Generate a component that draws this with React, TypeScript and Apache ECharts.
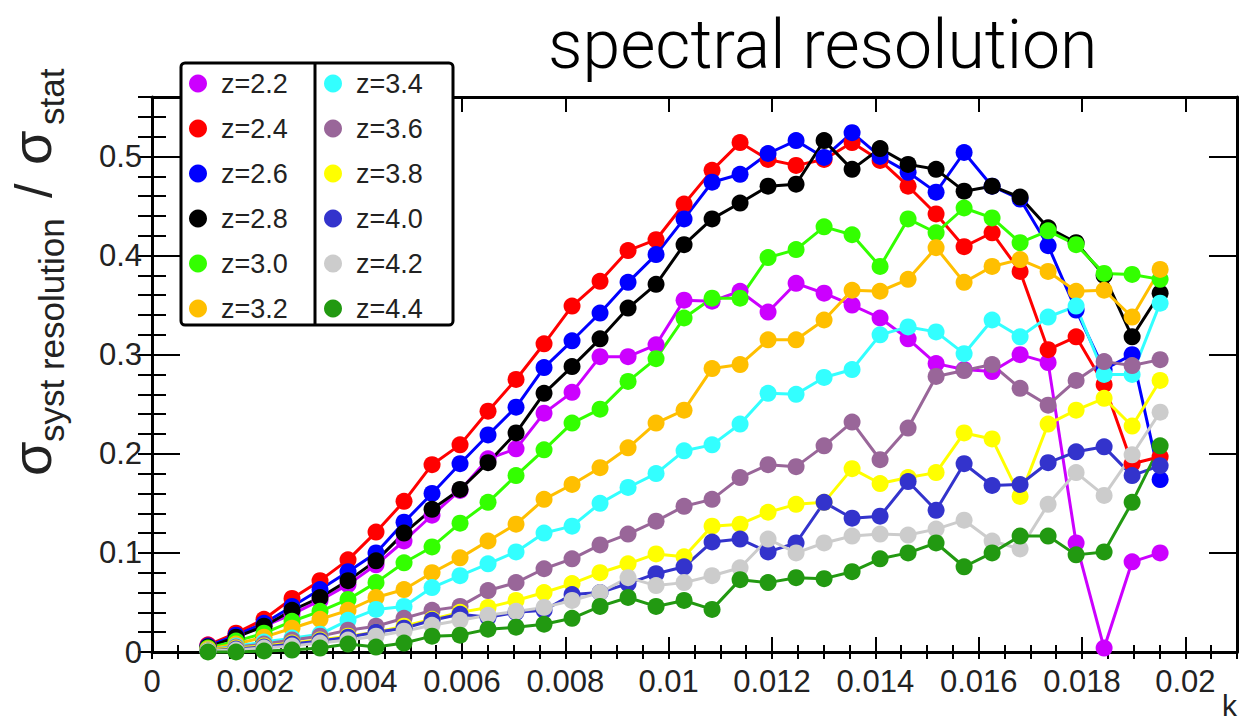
import React, { useEffect, useRef } from "react";
import * as echarts from "echarts";

// k values (x positions of the points)
const kValues = [
  0.001084, 0.001626, 0.002168, 0.00271, 0.003252, 0.003794, 0.004336, 0.004878,
  0.00542, 0.005962, 0.006504, 0.007046, 0.007588, 0.00813, 0.008672, 0.009214,
  0.009756, 0.010298, 0.01084, 0.011382, 0.011924, 0.012466, 0.013008, 0.01355,
  0.014092, 0.014634, 0.015176, 0.015718, 0.01626, 0.016802, 0.017344, 0.017886,
  0.018428, 0.01897, 0.019512,
];

const seriesNames = [
  "z=2.2", "z=2.4", "z=2.6", "z=2.8", "z=3.0", "z=3.2",
  "z=3.4", "z=3.6", "z=3.8", "z=4.0", "z=4.2", "z=4.4",
];

const seriesColors = [
  "#cc00ff", "#ff0000", "#0000ff", "#000000", "#33ff00", "#ffbf00",
  "#33ffff", "#996699", "#ffff00", "#3333cc", "#cccccc", "#229911",
];

const z22 = [0.007, 0.016, 0.026, 0.038, 0.052, 0.068, 0.088, 0.112, 0.138, 0.163, 0.195, 0.205, 0.241, 0.262, 0.298, 0.298, 0.310, 0.355, 0.354, 0.364, 0.343, 0.372, 0.362, 0.350, 0.337, 0.316, 0.291, 0.285, 0.283, 0.300, 0.292, 0.110, 0.004, 0.091, 0.100];
const z24 = [0.007, 0.019, 0.033, 0.054, 0.072, 0.093, 0.121, 0.152, 0.189, 0.209, 0.243, 0.275, 0.311, 0.349, 0.374, 0.405, 0.416, 0.452, 0.486, 0.514, 0.497, 0.491, 0.497, 0.514, 0.496, 0.470, 0.442, 0.409, 0.423, 0.384, 0.305, 0.318, 0.270, 0.190, 0.197];
const z26 = [0.006, 0.017, 0.029, 0.046, 0.063, 0.081, 0.100, 0.131, 0.160, 0.190, 0.219, 0.247, 0.287, 0.314, 0.342, 0.373, 0.401, 0.437, 0.474, 0.482, 0.503, 0.516, 0.499, 0.524, 0.500, 0.484, 0.464, 0.504, 0.470, 0.457, 0.410, 0.345, 0.285, 0.300, 0.174];
const z28 = [0.005, 0.015, 0.026, 0.042, 0.055, 0.072, 0.092, 0.120, 0.144, 0.164, 0.191, 0.221, 0.261, 0.288, 0.316, 0.347, 0.371, 0.411, 0.437, 0.453, 0.470, 0.472, 0.516, 0.487, 0.508, 0.492, 0.487, 0.465, 0.470, 0.459, 0.428, 0.413, 0.380, 0.318, 0.362];
const z30 = [0.004, 0.011, 0.019, 0.031, 0.041, 0.053, 0.070, 0.090, 0.106, 0.130, 0.151, 0.178, 0.204, 0.231, 0.245, 0.273, 0.296, 0.337, 0.357, 0.357, 0.398, 0.406, 0.429, 0.421, 0.389, 0.437, 0.423, 0.448, 0.438, 0.413, 0.425, 0.411, 0.382, 0.381, 0.376];
const z32 = [0.003, 0.008, 0.015, 0.024, 0.033, 0.042, 0.055, 0.063, 0.080, 0.095, 0.112, 0.129, 0.154, 0.169, 0.186, 0.206, 0.231, 0.244, 0.286, 0.290, 0.315, 0.315, 0.335, 0.365, 0.364, 0.376, 0.408, 0.373, 0.389, 0.396, 0.384, 0.364, 0.365, 0.338, 0.386];
const z34 = [0.002, 0.006, 0.010, 0.014, 0.018, 0.032, 0.043, 0.046, 0.065, 0.077, 0.089, 0.101, 0.120, 0.127, 0.150, 0.166, 0.180, 0.203, 0.209, 0.230, 0.261, 0.260, 0.277, 0.285, 0.320, 0.328, 0.323, 0.301, 0.335, 0.318, 0.338, 0.349, 0.280, 0.280, 0.352];
const z36 = [0.002, 0.005, 0.008, 0.012, 0.016, 0.022, 0.026, 0.034, 0.042, 0.046, 0.062, 0.070, 0.084, 0.094, 0.108, 0.119, 0.132, 0.147, 0.154, 0.176, 0.189, 0.187, 0.208, 0.232, 0.194, 0.226, 0.278, 0.284, 0.290, 0.266, 0.249, 0.274, 0.293, 0.289, 0.295];
const z38 = [0.002, 0.004, 0.006, 0.009, 0.012, 0.016, 0.020, 0.026, 0.033, 0.040, 0.045, 0.052, 0.060, 0.069, 0.080, 0.089, 0.099, 0.096, 0.127, 0.129, 0.141, 0.149, 0.151, 0.185, 0.170, 0.176, 0.181, 0.221, 0.215, 0.157, 0.230, 0.244, 0.256, 0.228, 0.274];
const z40 = [0.001, 0.003, 0.005, 0.008, 0.011, 0.015, 0.020, 0.024, 0.032, 0.038, 0.035, 0.040, 0.042, 0.058, 0.060, 0.069, 0.079, 0.086, 0.111, 0.114, 0.101, 0.110, 0.151, 0.135, 0.137, 0.172, 0.143, 0.190, 0.168, 0.169, 0.191, 0.202, 0.207, 0.178, 0.188];
const z42 = [0.001, 0.002, 0.004, 0.006, 0.009, 0.012, 0.016, 0.021, 0.027, 0.032, 0.037, 0.041, 0.045, 0.052, 0.060, 0.075, 0.067, 0.070, 0.077, 0.085, 0.114, 0.100, 0.110, 0.117, 0.119, 0.118, 0.124, 0.133, 0.112, 0.104, 0.149, 0.181, 0.158, 0.199, 0.242];
const z44 = [0.000, 0.000, 0.001, 0.002, 0.004, 0.008, 0.005, 0.009, 0.016, 0.017, 0.023, 0.025, 0.028, 0.034, 0.046, 0.055, 0.046, 0.052, 0.043, 0.073, 0.070, 0.075, 0.074, 0.081, 0.094, 0.100, 0.110, 0.086, 0.100, 0.117, 0.117, 0.098, 0.101, 0.151, 0.208];

const seriesValues = [z22, z24, z26, z28, z30, z32, z34, z36, z38, z40, z42, z44];

const xTickLabels = ["0", "0.002", "0.004", "0.006", "0.008", "0.01", "0.012", "0.014", "0.016", "0.018", "0.02"];
const yTickLabels = ["0", "0.1", "0.2", "0.3", "0.4", "0.5"];

const FONT = "'Liberation Sans', Arial, Helvetica, sans-serif";
const TITLE_FONT = "Roboto, 'Liberation Sans', Arial, sans-serif";

export default function App() {
  const ref = useRef<HTMLDivElement>(null);

  useEffect(() => {
    if (!ref.current) return;
    const chart = echarts.init(ref.current, null, { renderer: "svg" });

    const tickLine = { color: "#000", width: 2 };
    const noSplit = { show: false };

    const xBase = { type: "value", min: 0, max: 0.021, splitLine: noSplit };
    const yBase = { type: "value", min: 0, max: 0.56, splitLine: noSplit };

    const xAxes = [
      {
        ...xBase,
        position: "bottom",
        interval: 0.002,
        axisLine: { show: true, onZero: false, lineStyle: { color: "#000", width: 3 } },
        axisTick: { show: true, inside: true, length: 15, lineStyle: tickLine },
        axisLabel: {
          show: true,
          showMaxLabel: false,
          margin: 14,
          fontSize: 31,
          color: "#222",
          fontFamily: FONT,
          formatter: (v: number) => xTickLabels[Math.round(v / 0.002)] ?? "",
        },
      },
      {
        ...xBase,
        position: "bottom",
        interval: 0.0005,
        axisLine: { show: false },
        axisTick: { show: true, inside: true, length: 7, lineStyle: tickLine },
        axisLabel: { show: false },
      },
      {
        ...xBase,
        position: "top",
        interval: 0.002,
        axisLine: { show: true, onZero: false, lineStyle: { color: "#000", width: 3 } },
        axisTick: { show: true, inside: true, length: 15, lineStyle: tickLine },
        axisLabel: { show: false },
      },
      {
        ...xBase,
        position: "top",
        interval: 0.0005,
        axisLine: { show: false },
        axisTick: { show: true, inside: true, length: 7, lineStyle: tickLine },
        axisLabel: { show: false },
      },
    ];

    const yAxes = [
      {
        ...yBase,
        position: "left",
        interval: 0.1,
        axisLine: { show: true, onZero: false, lineStyle: { color: "#000", width: 3 } },
        axisTick: { show: true, inside: true, length: 28, lineStyle: tickLine },
        axisLabel: {
          show: true,
          showMaxLabel: false,
          margin: 10,
          fontSize: 31,
          color: "#222",
          fontFamily: FONT,
          formatter: (v: number) => yTickLabels[Math.round(v / 0.1)] ?? "",
        },
      },
      {
        ...yBase,
        position: "left",
        interval: 0.02,
        axisLine: { show: false },
        axisTick: { show: true, inside: true, length: 14, lineStyle: tickLine },
        axisLabel: { show: false },
      },
      {
        ...yBase,
        position: "right",
        interval: 0.1,
        axisLine: { show: true, onZero: false, lineStyle: { color: "#000", width: 3 } },
        axisTick: { show: true, inside: true, length: 28, lineStyle: tickLine },
        axisLabel: { show: false },
      },
      {
        ...yBase,
        position: "right",
        interval: 0.02,
        axisLine: { show: false },
        axisTick: { show: true, inside: true, length: 14, lineStyle: tickLine },
        axisLabel: { show: false },
      },
    ];

    const series = seriesNames.map((name, s) => ({
      type: "line",
      name,
      xAxisIndex: 0,
      yAxisIndex: 0,
      data: kValues.map((k, i) => [k, seriesValues[s][i]]),
      symbol: "circle",
      symbolSize: 17,
      showSymbol: true,
      lineStyle: { color: seriesColors[s], width: 3 },
      itemStyle: { color: seriesColors[s] },
      emphasis: { disabled: true },
      clip: false,
    }));

    const legendCommon = {
      orient: "vertical",
      top: 70,
      itemWidth: 36,
      itemHeight: 18,
      itemGap: 18,
      icon: "circle",
      padding: 0,
      selectedMode: false,
      textStyle: { fontSize: 27, lineHeight: 26, color: "#222", fontFamily: FONT },
    };

    chart.setOption({
      animation: false,
      backgroundColor: "#fff",
      title: {
        text: "spectral resolution",
        left: 548,
        top: 11,
        padding: 0,
        textStyle: { fontSize: 68, fontWeight: 300, color: "#000", fontFamily: TITLE_FONT },
      },
      grid: { left: 152, top: 97, width: 1085, height: 555, containLabel: false },
      xAxis: xAxes,
      yAxis: yAxes,
      legend: [
        { ...legendCommon, left: 189, data: seriesNames.slice(0, 6) },
        { ...legendCommon, left: 324, data: seriesNames.slice(6) },
      ],
      graphic: [
        {
          type: "rect",
          z: 3,
          shape: { x: 181, y: 63, width: 272, height: 262, r: 4 },
          style: { fill: "#fff", stroke: "#000", lineWidth: 3 },
        },
        {
          type: "line",
          z: 3,
          shape: { x1: 315, y1: 63, x2: 315, y2: 325 },
          style: { stroke: "#000", lineWidth: 3 },
        },
        {
          type: "text",
          z: 5,
          x: 1237,
          y: 705,
          style: { text: "k", fontSize: 30, fontFamily: FONT, fill: "#222", align: "right", verticalAlign: "middle" },
        },
        {
          type: "group",
          x: 0,
          y: 476,
          rotation: Math.PI / 2,
          children: [
            { type: "text", x: 0, y: 31, style: { text: "σ", fontSize: 56, fontFamily: FONT, fill: "#222", align: "left", verticalAlign: "middle" } },
            { type: "text", x: 34, y: 51, style: { text: "syst resolution", fontSize: 35, fontFamily: FONT, fill: "#222", align: "left", verticalAlign: "middle" } },
            { type: "text", x: 278, y: 34, style: { text: "/", fontSize: 52, fontFamily: FONT, fill: "#222", align: "left", verticalAlign: "middle" } },
            { type: "text", x: 311, y: 31, style: { text: "σ", fontSize: 56, fontFamily: FONT, fill: "#222", align: "left", verticalAlign: "middle" } },
            { type: "text", x: 351, y: 51, style: { text: "stat", fontSize: 35, fontFamily: FONT, fill: "#222", align: "left", verticalAlign: "middle" } },
          ],
        },
      ],
      series,
    });

    return () => chart.dispose();
  }, []);

  return (
    <div
      ref={ref}
      style={{ position: "fixed", left: 0, top: 0, width: 1241, height: 721, background: "#fff" }}
    />
  );
}
